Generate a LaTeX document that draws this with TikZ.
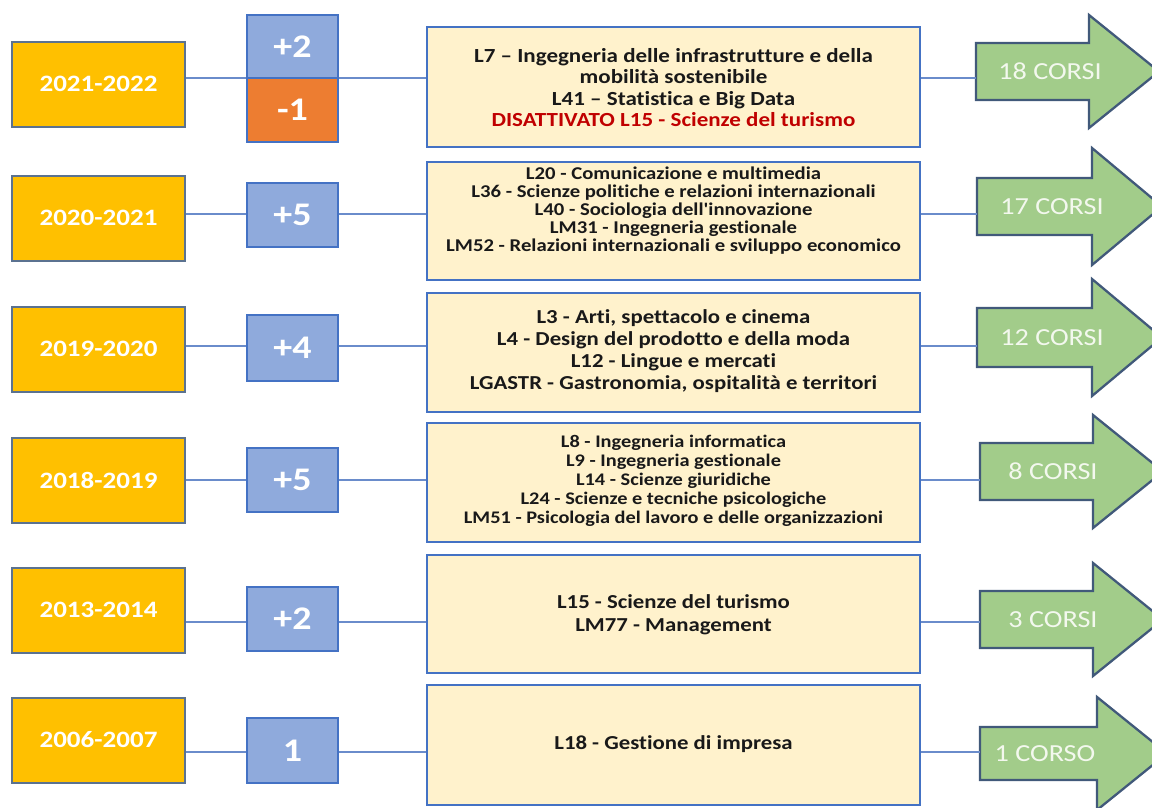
\documentclass[tikz,border=0pt]{standalone}
\usepackage{fontspec}
\usepackage{graphicx}
\newfontfamily\calib{Carlito}[Ligatures=NoCommon]
\definecolor{yearfill}{HTML}{FFC000}
\definecolor{yearborder}{HTML}{5B7290}
\definecolor{plusfill}{HTML}{8FAADC}
\definecolor{plusborder}{HTML}{4472C4}
\definecolor{minusfill}{HTML}{ED7D31}
\definecolor{coursefill}{HTML}{FFF2CC}
\definecolor{courseborder}{HTML}{4472C4}
\definecolor{arrowfill}{HTML}{A2CC8A}
\definecolor{arrowborder}{HTML}{41597A}
\definecolor{connc}{HTML}{6A8CCB}
\definecolor{txtred}{HTML}{C00000}
\definecolor{arrowtext}{HTML}{F3F8EE}
\newcommand{\sx}[1]{\scalebox{1.15}[1]{#1}}
\newcommand{\ctext}[3]{\sx{\fontsize{#1}{#2}\selectfont\begin{tabular}{@{}c@{}}#3\end{tabular}}}
\newcommand{\bigarrow}[8]{%
  \draw[arrowsty] ({#2},{#3-#4}) -- ({#6},{#3-#4}) -- ({#6},{#3-#5}) -- ({#6+70},{#3}) -- ({#6},{#3+#5}) -- ({#6},{#3+#4}) -- ({#2},{#3+#4}) -- cycle;
  \coordinate (#1) at ({#2},{#3});
  \node[arrowtxt] (#1t) at ({#8},{#3}) {\sx{#7}};}
\begin{document}
\begin{tikzpicture}[x=1pt,y=-1pt,
  every node/.style={font=\calib},
  year/.style={draw=yearborder, line width=2pt, fill=yearfill, minimum width=173pt, minimum height=85pt, inner sep=0pt, text=white, font=\calib\bfseries\fontsize{23.5}{26}\selectfont},
  plus/.style={draw=plusborder, line width=2.3pt, fill=plusfill, minimum width=91pt, minimum height=64pt, inner sep=0pt, text=white, font=\calib\bfseries\fontsize{33}{36}\selectfont},
  minus/.style={plus, fill=minusfill},
  course/.style={draw=courseborder, line width=2pt, fill=coursefill, minimum width=493pt, inner sep=0pt},
  ctxt/.style={inner sep=0pt, text=black!90, font=\calib\bfseries},
  arrowsty/.style={draw=arrowborder, line width=2.3pt, fill=arrowfill, line join=miter},
  arrowtxt/.style={inner sep=0pt, text=arrowtext, font=\calib\fontsize{24.5}{27}\selectfont},
  conn/.style={draw=connc, line width=1.3pt}]
\useasboundingbox[fill=white] (0,0) rectangle (1152,807);
% row line coordinates
\coordinate (r1) at (0,78);
\coordinate (r2) at (0,214);
\coordinate (r3) at (0,346);
\coordinate (r4) at (0,480);
\coordinate (r5) at (0,622);
\coordinate (r6) at (0,752);
% year boxes
\node[year] (y1) at (98.5,84) {\sx{2021-2022}};
\node[year] (y2) at (98.5,218) {\sx{2020-2021}};
\node[year] (y3) at (98.5,349) {\sx{2019-2020}};
\node[year] (y4) at (98.5,480) {\sx{2018-2019}};
\node[year] (y5) at (98.5,610) {\sx{2013-2014}};
\node[year] (y6) at (98.5,740) {\sx{2006-2007}};
% increment boxes
\node[plus, minimum height=63pt] (p1) at (292.5,46.5) {\sx{+2}};
\node[minus] (m1) at (292.5,110) {\sx{-1}};
\node[plus] (p2) at (292.5,215) {\sx{+5}};
\node[plus, minimum height=66pt] (p3) at (292.5,348) {\sx{+4}};
\node[plus] (p4) at (292.5,480) {\sx{+5}};
\node[plus] (p5) at (292.5,619) {\sx{+2}};
\node[plus, minimum height=65pt] (p6) at (292.5,750.5) {\sx{1}};
% course boxes
\node[course, minimum height=120pt] (c1) at (673.5,87) {};
\node[course, minimum height=118pt] (c2) at (673.5,221) {};
\node[course, minimum height=119pt] (c3) at (673.5,352.5) {};
\node[course, minimum height=119pt] (c4) at (673.5,482.5) {};
\node[course, minimum height=118pt] (c5) at (673.5,614) {};
\node[course, minimum height=120pt] (c6) at (673.5,745) {};
\node[ctxt] (t1) at (673.5,90) {\ctext{20}{21.5}{L7 – Ingegneria delle infrastrutture e della\\ mobilità sostenibile\\ L41 – Statistica e Big Data\\ \textcolor{txtred}{DISATTIVATO L15 - Scienze del turismo}}};
\node[ctxt] (t2) at (673.5,212) {\ctext{18}{17.6}{L20 - Comunicazione e multimedia\\ L36 - Scienze politiche e relazioni internazionali\\ L40 - Sociologia dell'innovazione\\ LM31 - Ingegneria gestionale\\ LM52 - Relazioni internazionali e sviluppo economico}};
\node[ctxt] (t3) at (673.5,352) {\ctext{19.8}{22}{L3 - Arti, spettacolo e cinema\\ L4 - Design del prodotto e della moda\\ L12 - Lingue e mercati\\ LGASTR - Gastronomia, ospitalità e territori}};
\node[ctxt] (t4) at (673.5,482) {\ctext{17.7}{19}{L8 - Ingegneria informatica\\ L9 - Ingegneria gestionale\\ L14 - Scienze giuridiche\\ L24 - Scienze e tecniche psicologiche\\ LM51 - Psicologia del lavoro e delle organizzazioni}};
\node[ctxt] (t5) at (673.5,615) {\ctext{19.8}{23}{L15 - Scienze del turismo\\ LM77 - Management}};
\node[ctxt] (t6) at (673.5,745) {\ctext{19.8}{23}{L18 - Gestione di impresa}};
% arrows
\bigarrow{a1}{976}{71.5}{28.5}{56.5}{1089}{18 CORSI}{1050}
\bigarrow{a2}{977}{206.5}{28.5}{58.5}{1092}{17 CORSI}{1052}
\bigarrow{a3}{977}{337.5}{29.5}{58.5}{1092}{12 CORSI}{1052}
\bigarrow{a4}{980}{471.5}{28.5}{56.5}{1093}{8 CORSI}{1053}
\bigarrow{a5}{980}{619.5}{28.5}{56.5}{1093}{3 CORSI}{1053}
\bigarrow{a6}{980}{753.5}{26.5}{56.5}{1097}{1 CORSO}{1045}
% connectors
\foreach \i in {1,...,6}{
  \draw[conn] (y\i.east |- r\i) -- (p\i.west |- r\i);
  \draw[conn] (p\i.east |- r\i) -- (c\i.west |- r\i);
  \draw[conn] (c\i.east |- r\i) -- (a\i |- r\i);
}
\end{tikzpicture}
\end{document}
